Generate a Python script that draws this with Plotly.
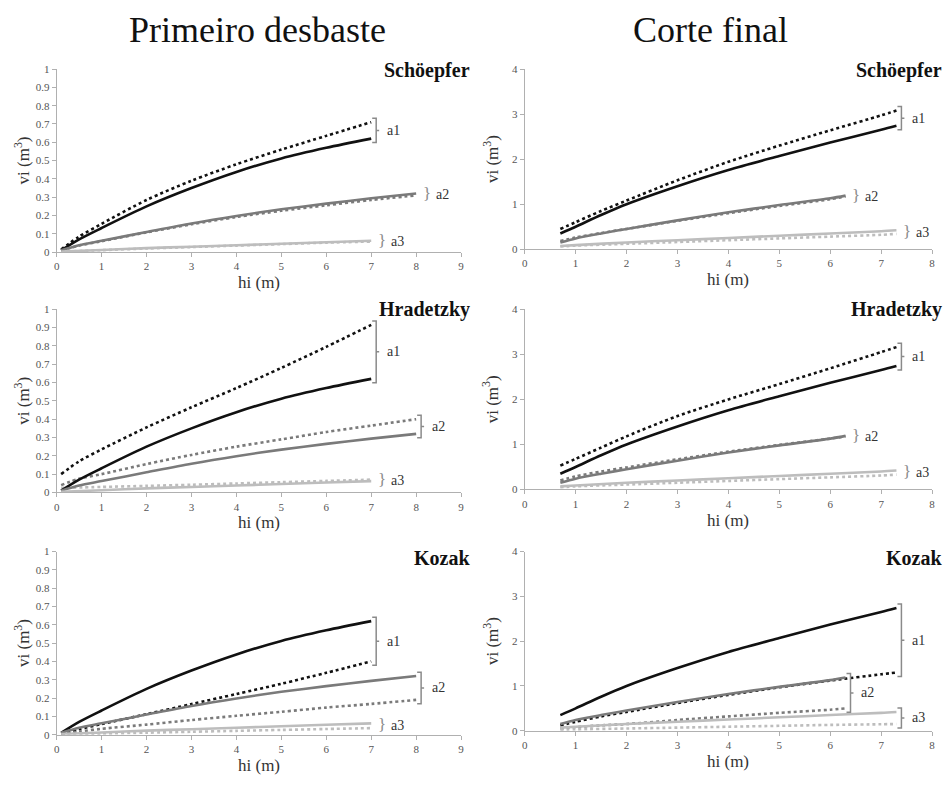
import plotly.graph_objects as go

W, H = 951, 785

# ---------------- DATA ----------------
# Primeiro desbaste (first thinning)
pd_hi_a1 = [0.1, 0.5, 1, 2, 3, 4, 5, 6, 7]
pd_hi_a2 = [0.1, 0.5, 1, 2, 3, 4, 5, 6, 7, 8]
pd_hi_a3 = [0.1, 1, 2, 3, 4, 5, 6, 7]

pd_obs_a1 = [0.01, 0.07, 0.132, 0.25, 0.35, 0.438, 0.512, 0.57, 0.62]
pd_obs_a2 = [0.01, 0.038, 0.062, 0.11, 0.157, 0.198, 0.234, 0.265, 0.294, 0.32]
pd_obs_a3 = [0.003, 0.012, 0.022, 0.03, 0.038, 0.046, 0.054, 0.062]

pd_sch_a1 = [0.015, 0.085, 0.155, 0.285, 0.39, 0.48, 0.56, 0.635, 0.71]
pd_sch_a2 = [0.01, 0.036, 0.06, 0.108, 0.152, 0.192, 0.226, 0.256, 0.285, 0.31]
pd_sch_a3 = [0.003, 0.011, 0.02, 0.028, 0.036, 0.044, 0.052, 0.058]

pd_hra_a1 = [0.1, 0.17, 0.235, 0.355, 0.465, 0.57, 0.68, 0.795, 0.915]
pd_hra_a2 = [0.04, 0.075, 0.1, 0.155, 0.205, 0.25, 0.29, 0.33, 0.365, 0.40]
pd_hra_a3 = [0.025, 0.03, 0.036, 0.042, 0.049, 0.056, 0.063, 0.07]

pd_koz_a1 = [0.005, 0.03, 0.058, 0.112, 0.167, 0.222, 0.278, 0.338, 0.40]
pd_koz_a2 = [0.003, 0.017, 0.032, 0.055, 0.08, 0.103, 0.125, 0.148, 0.168, 0.19]
pd_koz_a3 = [0.001, 0.006, 0.011, 0.016, 0.021, 0.026, 0.031, 0.036]

# Corte final (final cut)
cf_hi_a1 = [0.7, 1, 1.5, 2, 3, 4, 5, 6, 7, 7.3]
cf_hi_a2 = [0.7, 1, 1.5, 2, 3, 4, 5, 6, 6.3]
cf_hi_a3 = [0.7, 1, 2, 3, 4, 5, 6, 7, 7.3]

cf_obs_a1 = [0.35, 0.5, 0.76, 1.0, 1.4, 1.76, 2.07, 2.37, 2.65, 2.74]
cf_obs_a2 = [0.15, 0.24, 0.35, 0.45, 0.64, 0.82, 0.98, 1.13, 1.19]
cf_obs_a3 = [0.07, 0.09, 0.15, 0.2, 0.25, 0.3, 0.35, 0.4, 0.42]

cf_sch_a1 = [0.45, 0.6, 0.85, 1.08, 1.53, 1.94, 2.3, 2.64, 2.97, 3.08]
cf_sch_a2 = [0.18, 0.26, 0.36, 0.45, 0.63, 0.8, 0.96, 1.11, 1.17]
cf_sch_a3 = [0.06, 0.08, 0.12, 0.16, 0.2, 0.24, 0.28, 0.32, 0.34]

cf_hra_a1 = [0.53, 0.68, 0.93, 1.18, 1.63, 2.0, 2.34, 2.69, 3.05, 3.16]
cf_hra_a2 = [0.2, 0.29, 0.4, 0.49, 0.67, 0.84, 0.99, 1.13, 1.18]
cf_hra_a3 = [0.05, 0.07, 0.11, 0.15, 0.19, 0.23, 0.27, 0.31, 0.33]

cf_koz_a1 = [0.12, 0.2, 0.32, 0.42, 0.62, 0.8, 0.97, 1.12, 1.26, 1.3]
cf_koz_a2 = [0.05, 0.08, 0.12, 0.15, 0.24, 0.32, 0.4, 0.47, 0.5]
cf_koz_a3 = [0.02, 0.03, 0.05, 0.07, 0.09, 0.11, 0.13, 0.145, 0.15]

column_titles = ["Primeiro desbaste", "Corte final"]
model_names = ["Schöepfer", "Hradetzky", "Kozak"]
tree_labels = ["a1", "a2", "a3"]
pd_xticks = list(range(0, 10))
pd_yticks = [0, 0.1, 0.2, 0.3, 0.4, 0.5, 0.6, 0.7, 0.8, 0.9, 1]
cf_xticks = list(range(0, 9))
cf_yticks = [0, 1, 2, 3, 4]

# ---------------- STYLE / LAYOUT ----------------
FONT = "Liberation Serif, Times New Roman, Times, serif"
tree_colors = ["#111111", "#7a7a7a", "#bdbdbd"]
BR_COL = "#8a8a8a"
AX_COL = "#b0b0b0"

# pixel boxes (x0, x1, ytop, ybottom)
boxes = {
    ("pd", 0): (54, 461, 64, 250), ("cf", 0): (525, 935, 64, 247),
    ("pd", 1): (54, 461, 308, 494), ("cf", 1): (525, 935, 308, 491),
    ("pd", 2): (54, 461, 554, 740), ("cf", 2): (525, 935, 554, 736),
}

def px(x):
    return x / W

def py(y):
    return 1 - y / H

data = {
    "pd": dict(hi=[pd_hi_a1, pd_hi_a2, pd_hi_a3], obs=[pd_obs_a1, pd_obs_a2, pd_obs_a3],
               est=[[pd_sch_a1, pd_sch_a2, pd_sch_a3], [pd_hra_a1, pd_hra_a2, pd_hra_a3],
                    [pd_koz_a1, pd_koz_a2, pd_koz_a3]],
               xr=[0, 9], yr=[0, 1], xt=pd_xticks, yt=pd_yticks),
    "cf": dict(hi=[cf_hi_a1, cf_hi_a2, cf_hi_a3], obs=[cf_obs_a1, cf_obs_a2, cf_obs_a3],
               est=[[cf_sch_a1, cf_sch_a2, cf_sch_a3], [cf_hra_a1, cf_hra_a2, cf_hra_a3],
                    [cf_koz_a1, cf_koz_a2, cf_koz_a3]],
               xr=[0, 8], yr=[0, 4], xt=cf_xticks, yt=cf_yticks),
}

fig = go.Figure()
layout = dict(width=W, height=H, margin=dict(l=0, r=0, t=0, b=0), autosize=False,
              paper_bgcolor="white", plot_bgcolor="white", showlegend=False,
              font=dict(family=FONT, color="#333"))
annotations = []
shapes = []

idx = 0
for row in range(3):
    for ci, key in enumerate(["pd", "cf"]):
        idx += 1
        d = data[key]
        x0, x1, yt, yb = boxes[(key, row)]
        xa = "xaxis" if idx == 1 else f"xaxis{idx}"
        ya = "yaxis" if idx == 1 else f"yaxis{idx}"
        xr = "x" if idx == 1 else f"x{idx}"
        yr = "y" if idx == 1 else f"y{idx}"
        layout[xa] = dict(domain=[px(x0), px(x1)], anchor=yr, range=d["xr"], tickvals=d["xt"],
                          showgrid=False, zeroline=False, showline=True, linecolor=AX_COL,
                          linewidth=1, ticks="outside", ticklen=4, tickcolor=AX_COL,
                          tickfont=dict(family=FONT, size=11, color="#555"), fixedrange=True)
        layout[ya] = dict(domain=[py(yb), py(yt)], anchor=xr, range=d["yr"], tickvals=d["yt"],
                          ticktext=[f"{v:g}" for v in d["yt"]],
                          showgrid=False, zeroline=False, showline=True, linecolor=AX_COL,
                          linewidth=1, ticks="outside", ticklen=4, tickcolor=AX_COL,
                          tickfont=dict(family=FONT, size=11, color="#555"), fixedrange=True)
        ppx = (x1 - x0) / (d["xr"][1] - d["xr"][0])
        ppy = (yb - yt) / (d["yr"][1] - d["yr"][0])
        est = d["est"][row]
        for t in range(3):
            fig.add_trace(go.Scatter(x=d["hi"][t], y=est[t], mode="lines", xaxis=xr, yaxis=yr,
                                     line=dict(color=tree_colors[t], width=2.6, dash="dot",
                                               shape="spline", smoothing=0.8)))
        for t in range(3):
            fig.add_trace(go.Scatter(x=d["hi"][t], y=d["obs"][t], mode="lines", xaxis=xr, yaxis=yr,
                                     line=dict(color=tree_colors[t], width=2.6, shape="spline",
                                               smoothing=0.8)))
        # brackets
        for t in range(3):
            xe = d["hi"][t][-1] + 5 / ppx
            ya_, yb_ = sorted([d["obs"][t][-1], est[t][-1]])
            span = (yb_ - ya_) * ppy
            mid = (ya_ + yb_) / 2
            if span < 10:
                annotations.append(dict(x=xe, y=mid, xref=xr, yref=yr, text="}", showarrow=False,
                                        xanchor="left", yanchor="middle", yshift=1,
                                        font=dict(family=FONT, size=17, color=BR_COL)))
                lx = xe + 13 / ppx
            else:
                ext = 4 / ppy
                tk = 4 / ppx
                top = yb_ + ext
                bot = ya_ - ext
                path = (f"M {xe - tk},{top} L {xe},{top} L {xe},{bot} L {xe - tk},{bot} "
                        f"M {xe},{mid} L {xe + 3 / ppx},{mid}")
                shapes.append(dict(type="path", path=path, xref=xr, yref=yr,
                                   line=dict(color=BR_COL, width=1.5)))
                lx = xe + 9 / ppx
            annotations.append(dict(x=lx, y=mid, xref=xr, yref=yr, text=tree_labels[t],
                                    showarrow=False, xanchor="left", yanchor="middle",
                                    font=dict(family=FONT, size=14, color="#333")))
        # model name
        name_y = {0: 66, 1: 308, 2: 561}[row]
        right_x = 472 if key == "pd" else 947
        annotations.append(dict(x=px(right_x), y=py(name_y), xref="paper", yref="paper",
                                text=f"<b>{model_names[row]}</b>", showarrow=False,
                                xanchor="right", yanchor="middle",
                                font=dict(family=FONT, size=20, color="#111")))
        # axis titles
        vx = 19 if key == "pd" else 491
        annotations.append(dict(x=px(vx), y=py((yt + yb) / 2), xref="paper", yref="paper",
                                text="vi (m<sup>3</sup>)", textangle=-90, showarrow=False,
                                xanchor="center", yanchor="middle",
                                font=dict(family=FONT, size=17, color="#333")))
        annotations.append(dict(x=px((x0 + x1) / 2), y=py(yb + 31), xref="paper", yref="paper",
                                text="hi (m)", showarrow=False, xanchor="center", yanchor="middle",
                                font=dict(family=FONT, size=17, color="#333")))

# column titles
annotations.append(dict(x=px(256), y=py(24), xref="paper", yref="paper", text=column_titles[0],
                        showarrow=False, xanchor="center", yanchor="middle",
                        font=dict(family=FONT, size=36, color="#111")))
annotations.append(dict(x=px(712), y=py(24), xref="paper", yref="paper", text=column_titles[1],
                        showarrow=False, xanchor="center", yanchor="middle",
                        font=dict(family=FONT, size=36, color="#111")))

layout["annotations"] = annotations
layout["shapes"] = shapes
fig.update_layout(**layout)
fig.write_html("out.html")
